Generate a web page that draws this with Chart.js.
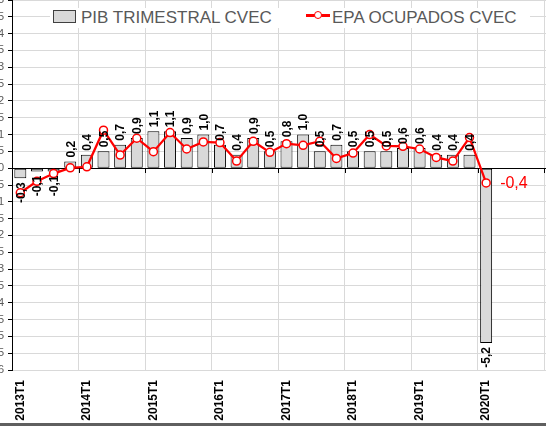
<!DOCTYPE html>
<html>
<head>
<meta charset="utf-8">
<script src="https://cdn.jsdelivr.net/npm/chart.js@4.4.0/dist/chart.umd.min.js"></script>
<style>
  html, body { margin: 0; overflow: hidden; background: #fff; }
  #marco { position: relative; width: 561px; height: 426px; overflow: hidden; font-family: "Liberation Sans", Arial, sans-serif; }
  #myChart { display: block; }
  #franja { position: absolute; left: 0; bottom: 0; width: 561px; height: 3px; background: #5f5f5f; }
  #leyenda { position: absolute; left: 50px; top: 8px; width: 480px; height: 20px; background: #fff; }
  #leyenda .txt { position: absolute; top: 0; font-size: 17px; line-height: 19px; color: #595959; white-space: nowrap; }
  #leyenda .caja { position: absolute; left: 3px; top: 2px; width: 23px; height: 13px; box-sizing: border-box; background: #d9d9d9; border: 1px solid #404040; }
  #leyenda .raya { position: absolute; left: 256px; top: 6px; width: 24px; height: 2.5px; background: #ff0000; }
  #leyenda .bola { position: absolute; left: 264px; top: 3.3px; width: 8px; height: 8px; box-sizing: border-box; border: 1.5px solid #ff0000; border-radius: 50%; background: #fff; }
</style>
</head>
<body>
<div id="marco">
  <canvas id="myChart" width="561" height="426"></canvas>
  <div id="leyenda"></div>
  <div id="franja"></div>
</div>
<script>
const trimestres = [
    "2013T1", "2013T2", "2013T3", "2013T4",
    "2014T1", "2014T2", "2014T3", "2014T4",
    "2015T1", "2015T2", "2015T3", "2015T4",
    "2016T1", "2016T2", "2016T3", "2016T4",
    "2017T1", "2017T2", "2017T3", "2017T4",
    "2018T1", "2018T2", "2018T3", "2018T4",
    "2019T1", "2019T2", "2019T3", "2019T4",
    "2020T1", "2020T2", "2020T3", "2020T4", "2021T1"
];

// PIB trimestral, variacion trimestral (%)
const pibTrimestral = [
    -0.3, -0.1, -0.1, 0.2,
    0.4, 0.5, 0.7, 0.9,
    1.1, 1.1, 0.9, 1.0,
    0.7, 0.4, 0.9, 0.5,
    0.8, 1.0, 0.5, 0.7,
    0.5, 0.5, 0.5, 0.6,
    0.6, 0.4, 0.4, 0.4,
    -5.2, null, null, null, null
];

// EPA ocupados, variacion trimestral (%)
const epaOcupados = [
    -0.73, -0.39, -0.16, 0.01,
    0.04, 1.13, 0.39, 0.89,
    0.49, 1.06, 0.57, 0.78,
    0.76, 0.21, 0.80, 0.47,
    0.73, 0.68, 0.80, 0.29,
    0.45, 1.00, 0.66, 0.65,
    0.57, 0.32, 0.21, 0.91,
    -0.44, null, null, null, null
];

const ejeMin = -6;
const ejeMax = 5;
const ejePaso = 0.5;

const nombrePib = "PIB TRIMESTRAL CVEC";
const nombreEpa = "EPA OCUPADOS CVEC";

const coma = (v) => v.toFixed(1).replace(".", ",");

const etiquetas = {
    id: "etiquetas",
    afterDatasetsDraw(chart) {
        const ctx = chart.ctx;
        const x = chart.scales.x;
        const y0 = Math.round(chart.scales.y.getPixelForValue(0));

        // marcas del eje horizontal sobre el cero
        ctx.save();
        ctx.strokeStyle = "#000";
        ctx.lineWidth = 1;
        ctx.beginPath();
        for (let i = 4; i < trimestres.length; i += 4) {
            const px = Math.round((x.getPixelForValue(i - 1) + x.getPixelForValue(i)) / 2) + 0.5;
            ctx.moveTo(px, y0);
            ctx.lineTo(px, y0 + 5);
        }
        ctx.stroke();
        ctx.restore();

        // etiquetas de las barras
        const barras = chart.getDatasetMeta(0).data;
        ctx.save();
        ctx.font = "bold 12px 'Liberation Sans', Arial, sans-serif";
        ctx.fillStyle = "#000";
        ctx.textBaseline = "middle";
        barras.forEach((bar, i) => {
            const v = pibTrimestral[i];
            if (v === null) return;
            ctx.save();
            ctx.translate(bar.x + 1, v >= 0 ? bar.y - 4 : bar.y + 4);
            ctx.rotate(-Math.PI / 2);
            ctx.textAlign = v >= 0 ? "left" : "right";
            ctx.fillText(coma(v), 0, 0);
            ctx.restore();
        });
        ctx.restore();

        // ultimo dato de la EPA
        const puntos = chart.getDatasetMeta(1).data;
        let ultimo = -1;
        epaOcupados.forEach((v, i) => { if (v !== null) ultimo = i; });
        if (ultimo >= 0) {
            const p = puntos[ultimo];
            ctx.save();
            ctx.font = "16px 'Liberation Sans', Arial, sans-serif";
            ctx.fillStyle = "#ff0000";
            ctx.textAlign = "left";
            ctx.textBaseline = "middle";
            ctx.fillText(coma(epaOcupados[ultimo]), p.x + 14, p.y + 1);
            ctx.restore();
        }
    }
};

const ctx = document.getElementById("myChart").getContext("2d");
const myChart = new Chart(ctx, {
    type: "bar",
    data: {
        labels: trimestres,
        datasets: [{
            type: "bar",
            label: nombrePib,
            data: pibTrimestral,
            backgroundColor: "#d9d9d9",
            borderColor: "#000",
            borderWidth: 1,
            borderSkipped: false,
            order: 2
        }, {
            type: "line",
            label: nombreEpa,
            data: epaOcupados,
            borderColor: "#ff0000",
            borderWidth: 2.25,
            pointRadius: 4,
            pointBackgroundColor: "#fff",
            pointBorderColor: "#ff0000",
            pointBorderWidth: 1.5,
            tension: 0,
            order: 1
        }]
    },
    options: {
        responsive: false,
        animation: false,
        layout: { padding: 0, autoPadding: false },
        scales: {
            x: {
                afterFit: (s) => {
                    s.height = 56;
                    s.paddingLeft = 0;
                    s.paddingRight = 0;
                },
                border: { display: false },
                grid: {
                    color: (g) => g.index % 4 === 0 ? "#d9d9d9" : "rgba(0,0,0,0)",
                    drawTicks: false
                },
                ticks: {
                    autoSkip: false,
                    maxRotation: 90,
                    minRotation: 90,
                    padding: 10,
                    color: "#000",
                    font: { family: "'Liberation Sans', Arial, sans-serif", size: 12, weight: "bold" },
                    callback: function (val, i) {
                        return i % 4 === 0 && pibTrimestral[i] !== null ? this.getLabelForValue(val) : "";
                    }
                }
            },
            y: {
                min: ejeMin,
                max: ejeMax,
                afterFit: (s) => {
                    s.width = 12;
                    s.paddingTop = 0;
                    s.paddingBottom = 0;
                },
                border: { display: true, color: "#000", width: 1 },
                grid: {
                    color: (g) => g.tick && g.tick.value === 0 ? "#000" : "#d9d9d9",
                    tickColor: "#000",
                    tickLength: 4
                },
                ticks: {
                    stepSize: ejePaso,
                    maxTicksLimit: 40,
                    padding: 4,
                    color: "#595959",
                    font: { family: "'Liberation Sans', Arial, sans-serif", size: 11 },
                    callback: (v) => String(v).replace(".", ",")
                }
            }
        },
        plugins: {
            tooltip: { enabled: false },
            legend: { display: false }
        }
    },
    plugins: [etiquetas]
});

// leyenda
const leyenda = document.getElementById("leyenda");
leyenda.innerHTML =
    '<span class="caja"></span><span class="txt" style="left:31px">' + nombrePib + '</span>' +
    '<span class="raya"></span><span class="bola"></span><span class="txt" style="left:282px">' + nombreEpa + '</span>';
</script>
</body>
</html>
